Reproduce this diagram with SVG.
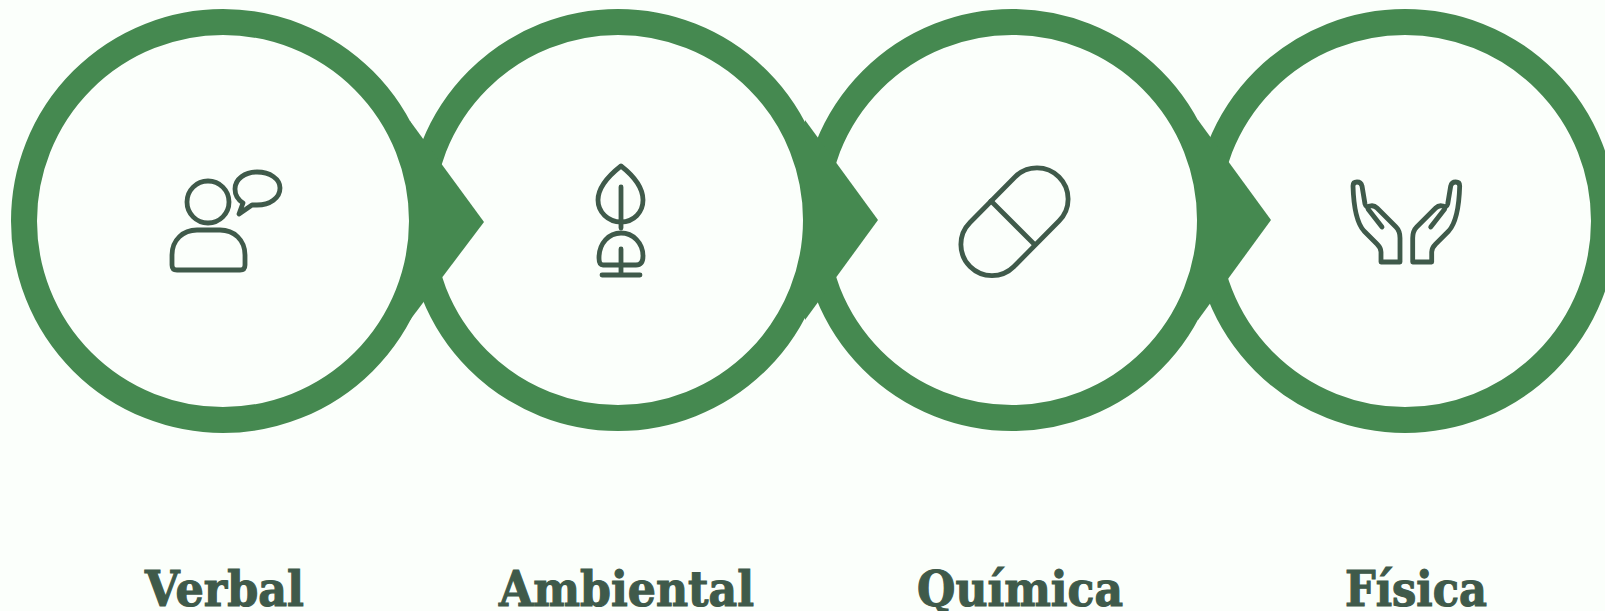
<svg xmlns="http://www.w3.org/2000/svg" width="1605" height="611" viewBox="0 0 1605 611">
<style>
.ring{fill:#fbfffb;stroke:#458950;stroke-width:26}
.chev{fill:#458950}
.ico{fill:none;stroke:#3f5a4a;stroke-width:4.800;stroke-linecap:round;stroke-linejoin:round}
.lab{font-family:"DejaVu Serif",serif;font-weight:700;font-size:48px;fill:#3f5a4a;stroke:#3f5a4a;stroke-width:1.200}
</style>
<rect width="1605" height="611" fill="#fbfffb"/>
<g id="node-fisica">
<circle class="ring" cx="1405" cy="221" r="199"/>
</g>
<g id="node-quimica">
<circle class="ring" cx="1012" cy="220" r="198"/>
</g>
<g id="node-ambiental">
<circle class="ring" cx="618" cy="220" r="198"/>
</g>
<g id="node-verbal">
<circle class="ring" cx="223" cy="221" r="199"/>
</g>
<g id="connectors">
<polygon class="chev" points="410,121 484,222 410,320"/>
<polygon class="chev" points="805,120 878,220 805,320"/>
<polygon class="chev" points="1198,120 1271,220 1198,320"/>
</g>
<g id="icon-verbal" class="ico">
<circle cx="208" cy="202" r="21"/>
<path d="M172 255C172 240 183 230 197 230H220C234 230 245 240 245 255V265Q245 270 240 270H177Q172 270 172 265Z"/>
<path d="M239 214L243 203C237 199 235 194 235 189C235 179 245 172 257 172C270 172 280 179 280 188C280 198 270 205 257 205Q254 205 252 205Z"/>
</g>
<g id="icon-ambiental" class="ico">
<path d="M621 166C607 177 598 188 598 200C598 212 608 222 621 222C634 222 643 212 643 200C643 188 635 177 621 166Z"/>
<path d="M621 187V228"/>
<path d="M621 249V275M602 275H640"/>
<path d="M621 265H603Q599 265 599 258C599 243 609 233 621 233C633 233 643 243 643 256Q643 265 636 265H621"/>
</g>
<g id="icon-quimica" class="ico">
<path d="M1015 177A31 31 0 0 1 1059 221L1014 266.500A31 31 0 0 1 970 222.500Z"/>
<path d="M991 201L1034 244"/>
</g>
<g id="icon-fisica" class="ico">
<g id="hand-left">
<path d="M1381 262V252Q1381 248 1377 244L1364 231Q1354 220 1353 186Q1353 182 1357 182Q1361 182 1362 186L1365 204Q1366 208 1370 206Q1374 205 1377 208L1396 227Q1400 231 1400 238V262Z"/>
<path d="M1368 209L1382 227"/>
</g>
<g id="hand-right" transform="translate(2812.700 0) scale(-1 1)">
<path d="M1381 262V252Q1381 248 1377 244L1364 231Q1354 220 1353 186Q1353 182 1357 182Q1361 182 1362 186L1365 204Q1366 208 1370 206Q1374 205 1377 208L1396 227Q1400 231 1400 238V262Z"/>
<path d="M1368 209L1382 227"/>
</g>
</g>
<g id="labels">
<text class="lab" x="145" y="606" textLength="159" lengthAdjust="spacingAndGlyphs">Verbal</text>
<text class="lab" x="499" y="606" textLength="255" lengthAdjust="spacingAndGlyphs">Ambiental</text>
<text class="lab" x="917" y="606" textLength="206" lengthAdjust="spacingAndGlyphs">Química</text>
<text class="lab" x="1345" y="606" textLength="142" lengthAdjust="spacingAndGlyphs">Física</text>
</g>
</svg>
